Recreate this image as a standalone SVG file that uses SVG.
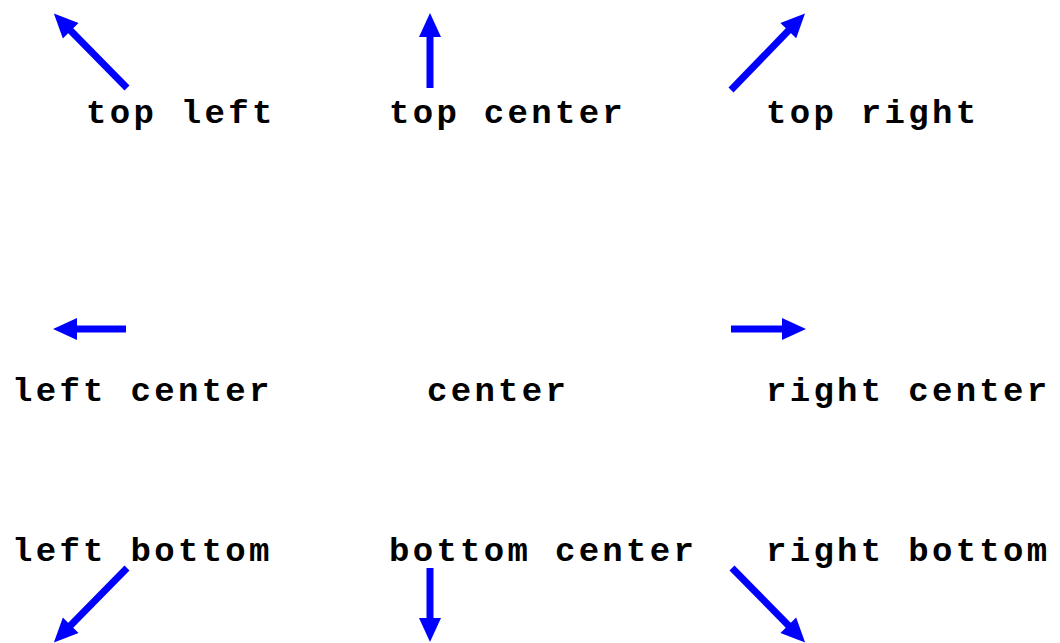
<svg xmlns="http://www.w3.org/2000/svg" width="1060" height="643" viewBox="0 0 1060 643">
<style>
.lbl{font-family:"Liberation Mono","Courier New",monospace;font-weight:bold;font-size:34px;letter-spacing:3.3px;fill:#000}
.arr{stroke:#0000ff;stroke-width:7;fill:none;marker-end:url(#ah)}
</style>
<defs>
<marker id="ah" markerUnits="userSpaceOnUse" markerWidth="30" markerHeight="26" refX="1" refY="11" orient="auto" overflow="visible">
<path d="M0,0 L24,11 L0,22 Z" fill="#0000ff"/>
</marker>
</defs>
<rect width="1060" height="643" fill="#fff"/>
<g id="connectors">
<line class="arr" x1="127" y1="88" x2="70" y2="30"/>
<line class="arr" x1="430" y1="88" x2="430" y2="36"/>
<line class="arr" x1="731" y1="90" x2="789" y2="30"/>
<line class="arr" x1="126" y1="329" x2="76" y2="329"/>
<line class="arr" x1="731" y1="329" x2="783" y2="329"/>
<line class="arr" x1="127" y1="568" x2="70" y2="626"/>
<line class="arr" x1="430" y1="568" x2="430" y2="619"/>
<line class="arr" x1="732" y1="568" x2="789" y2="626"/>
</g>
<g id="n-top-left"><text class="lbl" x="86" y="123">top left</text></g>
<g id="n-top-center"><text class="lbl" x="389" y="123">top center</text></g>
<g id="n-top-right"><text class="lbl" x="766" y="123">top right</text></g>
<g id="n-left-center"><text class="lbl" x="12" y="401">left center</text></g>
<g id="n-center"><text class="lbl" x="427" y="401">center</text></g>
<g id="n-right-center"><text class="lbl" x="766" y="401">right center</text></g>
<g id="n-left-bottom"><text class="lbl" x="12" y="561">left bottom</text></g>
<g id="n-bottom-center"><text class="lbl" x="389" y="561">bottom center</text></g>
<g id="n-right-bottom"><text class="lbl" x="766" y="561">right bottom</text></g>
</svg>
